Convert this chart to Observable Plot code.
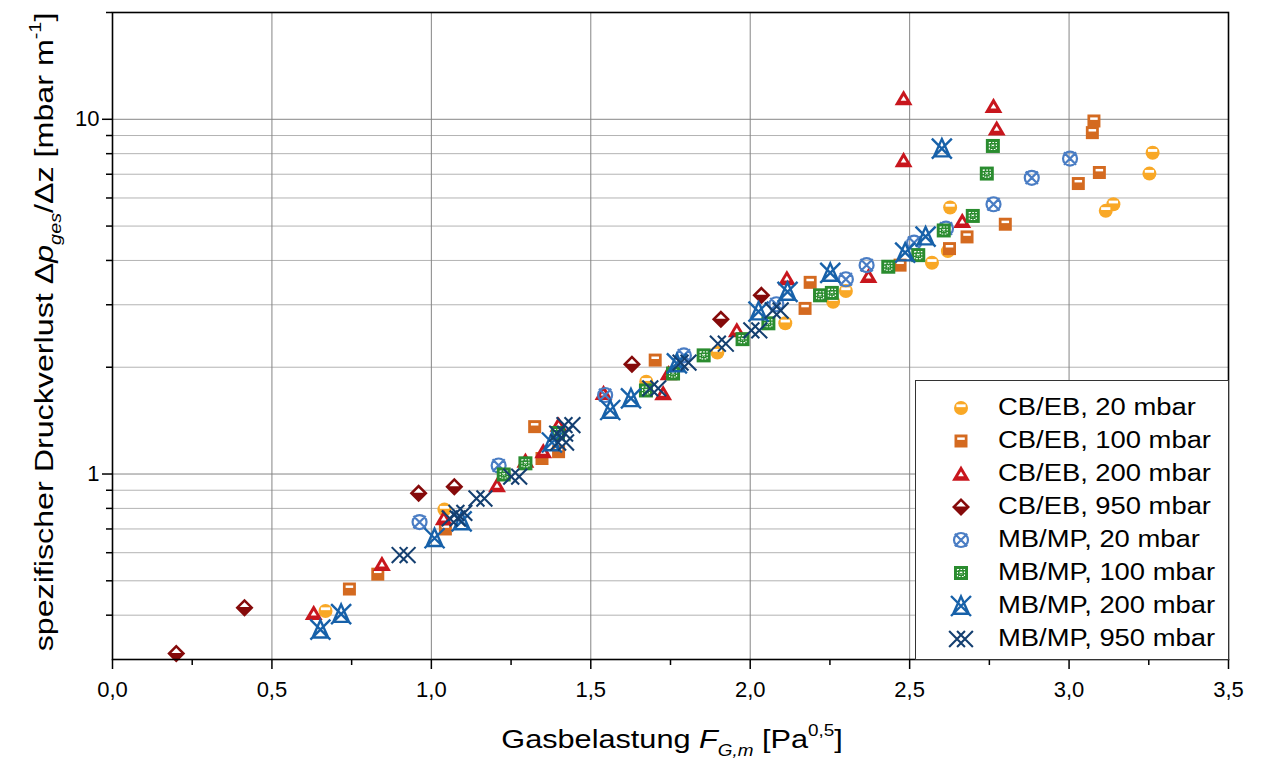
<!DOCTYPE html>
<html>
<head>
<meta charset="utf-8">
<script src="https://cdn.jsdelivr.net/npm/d3@7"></script>
<script src="https://cdn.jsdelivr.net/npm/@observablehq/plot@0.6"></script>
<style>
  body { margin: 0; background: #fff; font-family: "Liberation Sans", Arial, sans-serif; }
  #wrap { position: relative; width: 1263px; height: 761px; overflow: hidden; }
  #legend { position: absolute; left: 915px; top: 380px; width: 314px; height: 280px;
            border: 1.5px solid #333; background: #fff; box-sizing: border-box; }
  .row { position: absolute; left: 0; height: 33px; width: 310px; }
  .row svg { position: absolute; left: 25px; top: 1px; }
  .row span { position: absolute; left: 82px; top: 2px; font-size: 23px; color: #000;
              transform: scaleX(1.19); transform-origin: left center; white-space: nowrap; }
</style>
</head>
<body>
<div id="wrap"></div>
<script>
// ---------------- data ----------------
const seriesNames = ["CB/EB, 20 mbar", "CB/EB, 100 mbar", "CB/EB, 200 mbar", "CB/EB, 950 mbar",
                     "MB/MP, 20 mbar", "MB/MP, 100 mbar", "MB/MP, 200 mbar", "MB/MP, 950 mbar"];
const seriesColors = ["#F9A826", "#D46A20", "#C8161D", "#850A0A", "#4A7DC4", "#2A8C2F", "#1761A9", "#143F70"];

const cbeb20 = [[0.668,0.411],[1.041,0.794],[1.674,1.82],[1.897,2.20],[2.11,2.66],[2.26,3.06],[2.30,3.28],
  [2.57,3.94],[2.62,4.25],[2.627,5.64],[3.115,5.52],[3.139,5.76],[3.252,7.03],[3.262,8.05]];
const cbeb100 = [[0.743,0.474],[0.832,0.522],[1.044,0.70],[1.324,1.36],[1.347,1.106],[1.399,1.156],[1.702,2.095],
  [2.172,2.93],[2.188,3.47],[2.47,3.88],[2.625,4.32],[2.68,4.66],[2.80,5.06],[3.029,6.59],[3.073,9.17],[3.078,9.89],[3.095,7.08]];
const cbeb200 = [[0.631,0.405],[0.845,0.557],[1.039,0.75],[1.206,0.928],[1.295,1.088],[1.351,1.157],[1.399,1.374],
  [1.54,1.69],[1.727,1.687],[1.744,1.92],[1.958,2.54],[2.115,3.56],[2.371,3.61],[2.481,11.44],[2.481,7.66],
  [2.665,5.16],[2.763,10.88],[2.773,9.41]];
const cbeb950 = [[0.20,0.312],[0.414,0.42],[0.960,0.882],[1.072,0.921],[1.629,2.04],[1.908,2.73],[2.035,3.19]];
const mbmp20 = [[0.963,0.732],[1.211,1.057],[1.545,1.67],[1.792,2.16],[2.082,3.01],[2.30,3.54],[2.365,3.88],
  [2.514,4.49],[2.614,4.92],[2.763,5.76],[2.883,6.84],[3.003,7.75]];
const mbmp100 = [[1.227,0.997],[1.295,1.072],[1.397,1.305],[1.673,1.72],[1.758,1.92],[1.854,2.16],[1.976,2.40],
  [2.057,2.66],[2.219,3.19],[2.256,3.24],[2.433,3.84],[2.527,4.14],[2.607,4.86],[2.698,5.34],[2.742,7.03],[2.761,8.41]];
const mbmp200 = [[0.652,0.364],[0.717,0.403],[1.01,0.659],[1.095,0.735],[1.378,1.227],[1.561,1.515],[1.626,1.634],
  [1.77,2.05],[2.026,2.87],[2.117,3.26],[2.251,3.69],[2.486,4.21],[2.55,4.67],[2.601,8.27]];
const mbmp950 = [[0.913,0.591],[1.07,0.75],[1.091,0.777],[1.154,0.853],[1.263,0.983],[1.41,1.227],[1.407,1.30],
  [1.43,1.374],[1.699,1.744],[1.794,2.06],[1.911,2.33],[2.016,2.54],[2.083,2.89]];

const seriesData = [cbeb20, cbeb100, cbeb200, cbeb950, mbmp20, mbmp100, mbmp200, mbmp950];

const xMajorTicks = [0, 0.5, 1, 1.5, 2, 2.5, 3, 3.5];
const xMinorTicks = [0.25, 0.75, 1.25, 1.75, 2.25, 2.75, 3.25];
const xGridTicks = [0.5, 1, 1.5, 2, 2.5, 3];
const yMajorTicks = [1, 10];
const yMinorTicks = [0.4, 0.5, 0.6, 0.7, 0.8, 0.9, 2, 3, 4, 5, 6, 7, 8, 9, 20];

// ---------------- symbols ----------------
const rad = s => Math.sqrt(s / Math.PI);
const S = {
  circle: { draw(c, s) { const r = rad(s); c.moveTo(r, 0); c.arc(0, 0, r, 0, 2 * Math.PI); c.closePath(); } },
  circleBand: { draw(c, s) { const r = rad(s); c.rect(-0.66 * r, -0.52 * r, 1.32 * r, 0.4 * r); } },
  square: { draw(c, s) { const r = rad(s); c.rect(-r, -r, 2 * r, 2 * r); } },
  squareBand: { draw(c, s) { const r = rad(s); c.rect(-0.58 * r, -0.55 * r, 1.16 * r, 0.38 * r); } },
  triangle: { draw(c, s) { const r = rad(s); c.moveTo(0, -r); c.lineTo(1.05 * r, 0.8 * r); c.lineTo(-1.05 * r, 0.8 * r); c.closePath(); } },
  triangleIn: { draw(c, s) { const r = rad(s); c.moveTo(0, -0.3 * r); c.lineTo(0.34 * r, 0.26 * r); c.lineTo(-0.34 * r, 0.26 * r); c.closePath(); } },
  diamond: { draw(c, s) { const r = rad(s); c.moveTo(0, -r); c.lineTo(r, 0); c.lineTo(0, r); c.lineTo(-r, 0); c.closePath(); } },
  diamondIn: { draw(c, s) { const r = rad(s); c.moveTo(0, -0.6 * r); c.lineTo(0.54 * r, -0.06 * r); c.lineTo(-0.54 * r, -0.06 * r); c.closePath(); } },
  circleX: { draw(c, s) { const r = rad(s); c.moveTo(r, 0); c.arc(0, 0, r, 0, 2 * Math.PI); c.closePath();
    const k = r * 0.88; c.moveTo(-k, -k); c.lineTo(k, k); c.moveTo(k, -k); c.lineTo(-k, k); } },
  squareDots: { draw(c, s) { const r = rad(s); const k = 0.5 * r; c.rect(-k, -k, 2 * k, 2 * k);
    const m = 0.18 * r; c.moveTo(-m, -m); c.lineTo(m, m); c.moveTo(m, -m); c.lineTo(-m, m); } },
  xTri: { draw(c, s) { const r = rad(s); c.moveTo(-r, -r); c.lineTo(r, r); c.moveTo(r, -r); c.lineTo(-r, r);
    c.moveTo(0, -0.95 * r); c.lineTo(0.78 * r, 0.78 * r); c.lineTo(-0.78 * r, 0.78 * r); c.closePath(); } },
  hash: { draw(c, s) { const r = rad(s); const d = 0.36 * r, L = 0.72 * r;
    for (const sg of [-1, 1]) {
      // two lines along (1,1), shifted horizontally
      c.moveTo(-L + sg * d, -L); c.lineTo(L + sg * d, L);
      // two lines along (1,-1), shifted horizontally
      c.moveTo(-L + sg * d, L); c.lineTo(L + sg * d, -L);
    } } }
};

function layers(i) {
  const c = seriesColors[i];
  switch (i) {
    case 0: return [{ sym: S.circle, r: 7, fill: c }, { sym: S.circleBand, r: 7, fill: "#fff" }];
    case 1: return [{ sym: S.square, r: 6.5, fill: c }, { sym: S.squareBand, r: 6.5, fill: "#fff" }];
    case 2: return [{ sym: S.triangle, r: 8.5, fill: c }, { sym: S.triangleIn, r: 8.5, fill: "#fff" }];
    case 3: return [{ sym: S.diamond, r: 9, fill: c }, { sym: S.diamondIn, r: 9, fill: "#fff" }];
    case 4: return [{ sym: S.circleX, r: 7, fill: "none", stroke: c, sw: 2.2 }];
    case 5: return [{ sym: S.square, r: 7, fill: c }, { sym: S.squareDots, r: 7, fill: "none", stroke: "#fff", sw: 1.1, dash: "1.6,1.4" }];
    case 6: return [{ sym: S.xTri, r: 10, fill: "none", stroke: c, sw: 2.4 }];
    case 7: return [{ sym: S.hash, r: 11, fill: "none", stroke: c, sw: 2.1 }];
  }
}

// ---------------- marks ----------------
const rows = [];
seriesData.forEach((arr, i) => arr.forEach(([x, y]) => rows.push({ series: seriesNames[i], x, y })));

const dotMarks = [];
seriesNames.forEach((name, i) => {
  const d = rows.filter(r => r.series === name);
  for (const L of layers(i)) {
    dotMarks.push(Plot.dot(d, {
      x: "x", y: "y", symbol: L.sym, r: L.r,
      fill: L.fill, stroke: L.stroke || "none", strokeWidth: L.sw || 0,
      strokeDasharray: L.dash, strokeLinecap: "butt"
    }));
  }
});

const fmtX = d => d.toFixed(1).replace(".", ",");
const font = '"Liberation Sans", Arial, sans-serif';

const chart = Plot.plot({
  width: 1263, height: 761,
  marginLeft: 112, marginRight: 35, marginTop: 12, marginBottom: 102,
  style: { fontFamily: font, background: "#fff", color: "#000", overflow: "visible" },
  x: { domain: [0, 3.5] },
  y: { type: "log", domain: [0.3, 20] },
  marks: [
    Plot.gridY(yMinorTicks, { stroke: "#b3b3b3", strokeOpacity: 1, strokeWidth: 1 }),
    Plot.gridY(yMajorTicks, { stroke: "#858585", strokeOpacity: 1, strokeWidth: 1 }),
    Plot.gridX(xGridTicks, { stroke: "#858585", strokeOpacity: 1, strokeWidth: 1 }),
    ...dotMarks,
    Plot.frame({ stroke: "#000", strokeWidth: 1.6 }),
    Plot.axisX(xMajorTicks, { tickSize: 10, tickPadding: 12, tickFormat: fmtX, fontSize: 22, strokeWidth: 1.5, label: null }),
    Plot.axisX(xMinorTicks, { tickSize: 6, tickFormat: () => "", strokeWidth: 1.5, label: null }),
    Plot.axisY(yMajorTicks, { tickSize: 10, tickPadding: 3, tickFormat: d => String(d), fontSize: 22, strokeWidth: 1.5, label: null }),
    Plot.axisY(yMinorTicks, { tickSize: 6, tickFormat: () => "", strokeWidth: 1.5, label: null })
  ]
});

// axis titles with sub/superscripts
const svg = d3.select(chart);
const xl = svg.append("text")
  .attr("transform", "translate(672,748) scale(1.18,1)")
  .attr("text-anchor", "middle").attr("font-size", 26).attr("fill", "#000").attr("font-family", font);
xl.append("tspan").text("Gasbelastung ");
xl.append("tspan").attr("font-style", "italic").text("F");
xl.append("tspan").attr("font-style", "italic").attr("font-size", 16).attr("dy", 8).text("G,m");
xl.append("tspan").attr("dy", -8).text(" [Pa");
xl.append("tspan").attr("font-size", 16).attr("dy", -12).text("0,5");
xl.append("tspan").attr("dy", 12).text("]");

const yl = svg.append("text")
  .attr("transform", "translate(53,332) rotate(-90) scale(1.24,1)")
  .attr("text-anchor", "middle").attr("font-size", 26).attr("fill", "#000").attr("font-family", font);
yl.append("tspan").text("spezifischer Druckverlust Δ");
yl.append("tspan").attr("font-style", "italic").text("p");
yl.append("tspan").attr("font-style", "italic").attr("font-size", 16).attr("dy", 8).text("ges");
yl.append("tspan").attr("dy", -8).text("/Δz [mbar m");
yl.append("tspan").attr("font-size", 16).attr("dy", -12).text("-1");
yl.append("tspan").attr("dy", 12).text("]");

const wrap = document.getElementById("wrap");
wrap.appendChild(chart);

// legend
const legend = document.createElement("div");
legend.id = "legend";
seriesNames.forEach((name, i) => {
  const row = document.createElement("div");
  row.className = "row";
  row.style.top = (11 + 33 * i) + "px";
  const s = d3.create("svg").attr("width", 40).attr("height", 30);
  const g = s.append("g").attr("transform", "translate(20,15)");
  for (const L of layers(i)) {
    const p = d3.path();
    L.sym.draw(p, L.r * L.r * Math.PI);
    g.append("path").attr("d", p.toString())
      .attr("fill", L.fill).attr("stroke", L.stroke || "none").attr("stroke-width", L.sw || 0)
      .attr("stroke-dasharray", L.dash || null);
  }
  row.appendChild(s.node());
  const t = document.createElement("span");
  t.textContent = name;
  row.appendChild(t);
  legend.appendChild(row);
});
wrap.appendChild(legend);
</script>
</body>
</html>
